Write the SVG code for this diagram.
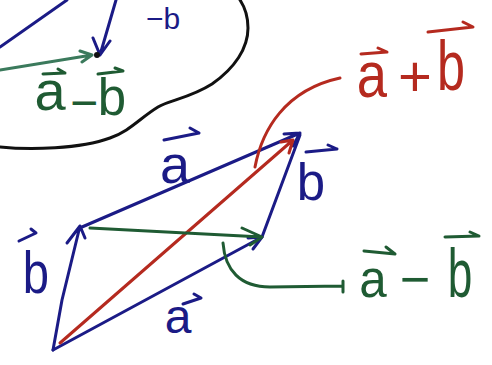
<svg xmlns="http://www.w3.org/2000/svg" width="492" height="365" viewBox="0 0 492 365">
<style>
.ln{fill:none;stroke-linecap:round;stroke-linejoin:round;stroke-width:3}
.bl{stroke:#1b1b86}
.rd{stroke:#b52a1f}
.gr{stroke:#1f5b33}
.tl{stroke:#3b7a5c}
.bk{stroke:#111}
.vec{fill:none;stroke-width:3;stroke-linecap:round;stroke-linejoin:round}
text{font-family:"Liberation Sans",Arial,sans-serif;text-anchor:middle}
.tb{fill:#1b1b86}
.tr{fill:#b52a1f}
.tg{fill:#1f5b33}
</style>
<rect width="492" height="365" fill="#fff"/>
<g id="connectors">
  <path class="ln bk" d="M0,147 C30,150 80,149 110,138 C130,131 140,118 158,107 C170,100 190,98 212,84 C235,68 248,48 248,28 C248,15 244,6 240,0"/>
  <path class="ln bl" d="M0,47 L67,0"/>
  <path class="ln bl" d="M116,0 L100,55 M93,38 L100,55 L110,41"/>
  <path class="ln tl" d="M0,70 L92,55 M80,51 L92,55 L82,62"/>
  <circle cx="97" cy="55" r="3" fill="#111"/>
  <path class="ln bl" d="M53,350 L62,300 L80,226 M67,243 L80,226 L85,238"/>
  <path class="ln bl" d="M82,227 L300,133 M284,134 L300,133 L293,146"/>
  <path class="ln bl" d="M53,350 L262,237 M248,238 L262,237 L253,249"/>
  <path class="ln bl" d="M262,237 L300,135"/>
  <path class="ln rd" d="M60,343 L293,140 M281,142 L293,140 L289,153"/>
  <path class="ln gr" d="M90,228 Q180,233 262,237 M242,228 L262,237 L250,245"/>
  <path class="ln gr" d="M223,243 C225,270 240,287 270,287 L343,286 M343,281 L343,292"/>
  <path class="ln rd" d="M255,167 C262,130 285,90 340,78"/>
</g>
<g id="label-minus-b">
  <text class="tb" x="163" y="29" font-size="30">−b</text>
</g>
<g id="label-blob-a-minus-b">
  <text class="tg" x="50" y="110" font-size="56">a</text>
  <text class="tg" x="84" y="119" font-size="48">−</text>
  <text class="tg" x="112" y="115" font-size="51">b</text>
  <path class="vec gr" d="M43,74 L65,73 M58,69 L65,73 M98,74 L123,71 M115,68 L123,71"/>
</g>
<g id="label-top-a">
  <text class="tb" x="175" y="183" font-size="54">a</text>
  <path class="vec bl" d="M164,140 L199,133 M190,128 L199,133"/>
</g>
<g id="label-right-b">
  <text class="tb" x="311" y="200" font-size="51">b</text>
  <path class="vec bl" d="M306,152 L337,149 M328,145 L337,149"/>
</g>
<g id="label-left-b">
  <text class="tb" x="36" y="293" font-size="59" transform="translate(36,0) scale(0.8,1) translate(-36,0)">b</text>
  <path class="vec bl" d="M19,241 L36,233 L31,229"/>
</g>
<g id="label-bottom-a">
  <text class="tb" x="178" y="333" font-size="48">a</text>
  <path class="vec bl" d="M183,304 L201,298 L194,294"/>
</g>
<g id="label-a-plus-b">
  <text class="tr" x="372" y="97" font-size="64" transform="translate(372,0) scale(0.85,1) translate(-372,0)">a</text>
  <text class="tr" x="415" y="96" font-size="58">+</text>
  <text class="tr" x="451" y="90" font-size="70" transform="translate(451,0) scale(0.72,1) translate(-451,0)">b</text>
  <path class="vec rd" d="M361,54 L387,52 L378,48 M428,32 L473,27 L463,22"/>
</g>
<g id="label-a-minus-b">
  <text class="tg" x="373" y="297" font-size="52" transform="translate(373,0) scale(0.95,1) translate(-373,0)">a</text>
  <text class="tg" x="415" y="297" font-size="52">−</text>
  <text class="tg" x="460" y="297" font-size="68" transform="translate(460,0) scale(0.65,1) translate(-460,0)">b</text>
  <path class="vec gr" d="M364,251 L395,254 L386,247 M445,237 L479,236 L470,232"/>
</g>
</svg>
